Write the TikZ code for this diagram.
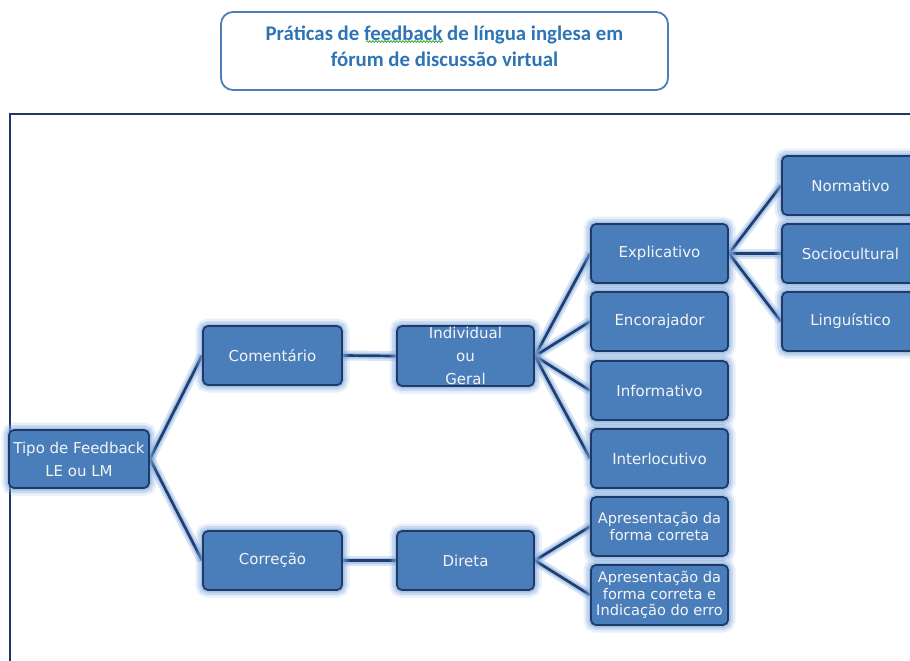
\documentclass[tikz,border=0pt]{standalone}
\usepackage{fontspec}
\newfontfamily\boxfont{DejaVu Sans}
\newfontfamily\titlefont{Carlito}
\usetikzlibrary{decorations.pathmorphing,backgrounds}
\definecolor{boxfill}{HTML}{4A7EBB}
\definecolor{boxline}{HTML}{1F3A68}
\definecolor{glowc}{HTML}{7EA8DC}
\definecolor{linkc}{HTML}{1F3F73}
\definecolor{titlec}{HTML}{2E74B5}
\definecolor{framec}{HTML}{1F3864}
\definecolor{boxtext}{HTML}{F4F4F4}
\tikzset{
  glowbox/.style={
    preaction={draw=glowc, line width=15pt, opacity=0.18},
    preaction={draw=glowc, line width=10pt, opacity=0.3},
    preaction={draw=glowc, line width=5pt, opacity=0.5}},
  box/.style={glowbox, draw=boxline, line width=1.8pt, fill=boxfill,
    rounded corners=5pt, minimum width=137pt, minimum height=59pt,
    inner sep=0pt, text=boxtext, align=center,
    font=\boxfont\fontsize{15}{23}\selectfont},
  tightbox/.style={box, font=\boxfont\fontsize{14.6}{16.5}\selectfont},
  link/.style={draw=linkc, line width=2.7pt,
    preaction={draw=glowc, line width=10pt, opacity=0.3},
    preaction={draw=glowc, line width=6pt, opacity=0.45}},
  titlebox/.style={draw=boxfill, line width=1.8pt, rounded corners=12pt,
    minimum width=447pt, minimum height=78pt, inner sep=0pt},
  titletext/.style={inner sep=0pt, align=center, text=titlec,
    font=\titlefont\bfseries\fontsize{20.8}{26}\selectfont}
}
\begin{document}
\begin{tikzpicture}[x=1pt,y=-1pt]
\useasboundingbox (0,0) rectangle (910,661);
% frame
\draw[framec, line width=1.3pt] (10,661) -- (10,114) -- (912,114);
% title
\node[titlebox] (title) at (444.5,51) {};
\node[titletext] (titletext) at (444.5,46) {Práticas de feedback de língua inglesa em\\fórum de discussão virtual};
\draw[green!60!black, line width=0.6pt, decorate,
  decoration={snake, amplitude=0.9pt, segment length=3pt}]
  (366,41.5) -- (443,41.5);
% boxes
\node[box, minimum width=140pt, minimum height=58pt] (tipo) at (79,459) {Tipo de Feedback\\LE ou LM};
\node[box, minimum width=139pt] (com) at (272.5,355.5) {Comentário};
\node[box, minimum height=60pt] (ind) at (465.5,356) {Individual\\ou\\Geral};
\node[box, minimum width=139pt] (corr) at (272.5,560.5) {Correção};
\node[box] (dir) at (465.5,560.5) {Direta};
\node[box] (expl) at (659.5,253.5) {Explicativo};
\node[box] (enc) at (659.5,321.5) {Encorajador};
\node[box] (inf) at (659.5,390.5) {Informativo};
\node[box] (inter) at (659.5,458.5) {Interlocutivo};
\node[tightbox] (ap1) at (659.5,526.5) {Apresentação da\\forma correta};
\node[tightbox, minimum height=60pt] (ap2) at (659.5,595) {Apresentação da\\forma correta e\\Indicação do erro};
\node[box] (norm) at (850.5,185.5) {Normativo};
\node[box] (socio) at (850.5,253.5) {Sociocultural};
\node[box] (ling) at (850.5,321.5) {Linguístico};
% connectors
\begin{pgfonlayer}{background}
\draw[link] (tipo.east) -- (com.west);
\draw[link] (tipo.east) -- (corr.west);
\draw[link] (com.east) -- (ind.west);
\draw[link] (corr.east) -- (dir.west);
\draw[link] (ind.east) -- (expl.west);
\draw[link] (ind.east) -- (enc.west);
\draw[link] (ind.east) -- (inf.west);
\draw[link] (ind.east) -- (inter.west);
\draw[link] (dir.east) -- (ap1.west);
\draw[link] (dir.east) -- (ap2.west);
\draw[link] (expl.east) -- (norm.west);
\draw[link] (expl.east) -- (socio.west);
\draw[link] (expl.east) -- (ling.west);
\end{pgfonlayer}
\end{tikzpicture}
\end{document}
